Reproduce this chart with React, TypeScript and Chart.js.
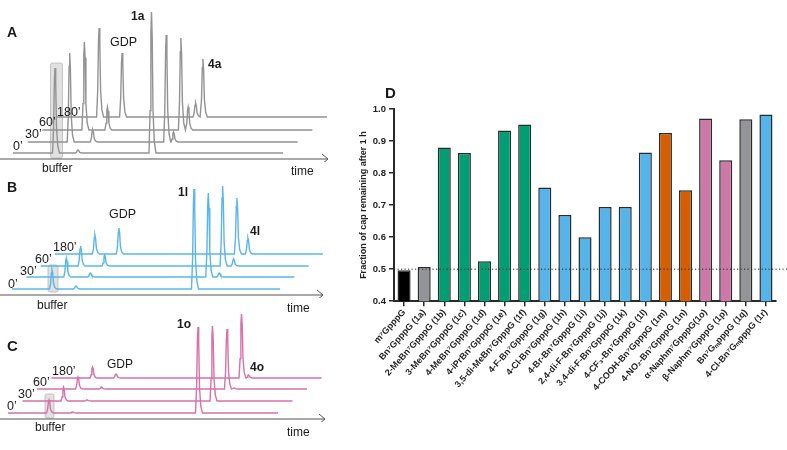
import React, { useEffect, useRef } from "react";
import { Chart, registerables } from "chart.js";
Chart.register(...registerables);

const FONT = '"Liberation Sans", Arial, Helvetica, sans-serif';

// ---------- Panel D data ----------
const capLabels = [
  "m⁷GpppG",
  "Bn⁷GpppG (1a)",
  "2-MeBn⁷GpppG (1b)",
  "3-MeBn⁷GpppG (1c)",
  "4-MeBn⁷GpppG (1d)",
  "4-iPrBn⁷GpppG (1e)",
  "3,5-di-MeBn⁷GpppG (1f)",
  "4-F-Bn⁷GpppG (1g)",
  "4-Cl-Bn⁷GpppG (1h)",
  "4-Br-Bn⁷GpppG (1i)",
  "2,4-di-F-Bn⁷GpppG (1j)",
  "3,4-di-F-Bn⁷GpppG (1k)",
  "4-CF₃-Bn⁷GpppG (1l)",
  "4-COOH-Bn⁷GpppG (1m)",
  "4-NO₂-Bn⁷GpppG (1n)",
  "α-Naphm⁷GpppG(1o)",
  "β-Naphm⁷GpppG (1p)",
  "Bn⁷GₘpppG (1q)",
  "4-Cl-Bn⁷GₘpppG (1r)",
];
const capRemaining = [
  0.497, 0.507, 0.88, 0.863, 0.525, 0.933, 0.952, 0.755, 0.669, 0.6, 0.694,
  0.694, 0.864, 0.925, 0.746, 0.97, 0.84, 0.968, 0.983,
];
const capGroup = [
  "ref", "gray", "green", "green", "green", "green", "green", "blue", "blue",
  "blue", "blue", "blue", "blue", "orange", "orange", "pink", "pink", "gray", "blue",
];
const yTicksD = [0.4, 0.5, 0.6, 0.7, 0.8, 0.9, 1.0];
const referenceLevel = 0.5;

const GROUP_COLORS: Record<string, string> = {
  ref: "#000000",
  gray: "#929497",
  green: "#009E73",
  blue: "#56B4E9",
  orange: "#D55E00",
  pink: "#CC79A7",
};

// ---------- Chromatogram data (peak retention positions, heights per time point) ----------
const timeLabels = ["0’", "30’", "60’", "180’"];

const aRetention = [55, 78, 151.5, 158.8]; // buffer, GDP, 1a, 4a
const aBuffer = [85, 89, 88, 89];
const aGDP = [3, 12, 23, 64];
const a1a = [141, 107, 92, 14];
const a4a = [0, 10, 23, 58];

const bRetention = [52, 76, 194, 205]; // buffer, GDP, 1l, 4l
const bBuffer = [19, 19, 20, 19];
const bGDP = [3, 4, 11, 26];
const b1l = [100, 84, 80, 56];
const b4l = [0, 4, 7, 16];

const cRetention = [49, 72.5, 198, 205]; // buffer, GDP, 1o, 4o
const cBuffer = [13, 14, 12, 11];
const cGDP = [1, 1, 2, 4];
const c1o = [86, 75, 60, 64];
const c4o = [0, 0, 1, 3];

const PEAK_SHAPE: [number, number][] = [
  [-2.5, 0], [-1.4, 0.3], [-0.6, 0.85], [0, 1], [0.7, 0.82], [1.5, 0.3], [2.8, 0.08], [4.5, 0],
];

type PanelCfg = {
  top: number;
  height: number;
  color: string;
  start: number;
  end: number;
  dx: number;
  baselines: number[];
  retention: number[];
  heights: number[][];
  box: [number, number, number, number];
  axisV: number;
  arrowX: number;
};

function buildTrace(cfg: PanelCfg, i: number) {
  const off = cfg.dx * i;
  const base = cfg.baselines[i];
  const pts: { x: number; y: number }[] = [{ x: cfg.start + off, y: base }];
  const peaks = cfg.retention
    .map((t, k) => ({ t, h: cfg.heights[k][i] }))
    .filter((p) => p.h > 0)
    .sort((a, b) => a.t - b.t);
  for (const p of peaks) {
    for (const [ox, f] of PEAK_SHAPE) pts.push({ x: p.t + ox + off, y: base + f * p.h });
  }
  pts.push({ x: cfg.end + off, y: base });
  return pts;
}

function ChromPanel({ cfg }: { cfg: PanelCfg }) {
  const ref = useRef<HTMLCanvasElement>(null);
  useEffect(() => {
    if (!ref.current) return;
    const decor = {
      id: "decor",
      beforeDatasetsDraw(chart: any) {
        const { ctx, scales } = chart;
        const xs = scales.x, ys = scales.y;
        const [x0, x1, y0, y1] = cfg.box;
        ctx.save();
        const L = xs.getPixelForValue(x0), R = xs.getPixelForValue(x1);
        const T = ys.getPixelForValue(y1), B = ys.getPixelForValue(y0);
        ctx.fillStyle = "rgba(205,205,205,0.6)";
        ctx.strokeStyle = "rgba(185,185,185,0.8)";
        ctx.lineWidth = 1;
        ctx.beginPath();
        ctx.roundRect ? ctx.roundRect(L, T, R - L, B - T, 2) : ctx.rect(L, T, R - L, B - T);
        ctx.fill();
        ctx.stroke();
        ctx.restore();
      },
      afterDraw(chart: any) {
        const { ctx, scales } = chart;
        const y = scales.y.getPixelForValue(cfg.axisV);
        const xe = scales.x.getPixelForValue(cfg.arrowX);
        ctx.save();
        ctx.strokeStyle = "#555";
        ctx.lineWidth = 1;
        ctx.beginPath();
        ctx.moveTo(0, y);
        ctx.lineTo(xe, y);
        ctx.moveTo(xe - 6, y - 5);
        ctx.lineTo(xe, y);
        ctx.lineTo(xe - 6, y + 5);
        ctx.stroke();
        ctx.restore();
      },
    };
    const chart = new Chart(ref.current, {
      type: "scatter",
      data: {
        datasets: timeLabels.map((lab, i) => ({
          label: lab,
          data: buildTrace(cfg, i),
          showLine: true,
          borderColor: cfg.color,
          borderWidth: 1.4,
          pointRadius: 0,
          tension: 0,
        })),
      },
      options: {
        animation: false,
        responsive: false,
        layout: { padding: 0 },
        plugins: { legend: { display: false }, tooltip: { enabled: false } },
        scales: {
          x: { type: "linear", display: false, min: 0, max: 330 },
          y: { type: "linear", display: false, min: 0, max: cfg.height },
        },
      },
      plugins: [decor],
    });
    return () => chart.destroy();
  }, [cfg]);
  return (
    <canvas
      ref={ref}
      width={330}
      height={cfg.height}
      style={{ position: "absolute", left: 0, top: cfg.top, width: 330, height: cfg.height }}
    />
  );
}

const panelA: PanelCfg = {
  top: 0, height: 162, color: "#939393", start: 13, end: 283, dx: 14.7,
  baselines: [9, 20, 32, 45], retention: aRetention, heights: [aBuffer, aGDP, a1a, a4a],
  box: [50.5, 62.5, 4, 99], axisV: 3, arrowX: 328,
};
const panelB: PanelCfg = {
  top: 162, height: 136, color: "#5AB6EA", start: 12, end: 280, dx: 14.3,
  baselines: [9, 21, 32, 44], retention: bRetention, heights: [bBuffer, bGDP, b1l, b4l],
  box: [48, 58, 6, 33], axisV: 3, arrowX: 323,
};
const panelC: PanelCfg = {
  top: 300, height: 122, color: "#D672A8", start: 8, end: 278, dx: 14.5,
  baselines: [9, 21, 33, 44], retention: cRetention, heights: [cBuffer, cGDP, c1o, c4o],
  box: [45, 54, 4, 28], axisV: 3, arrowX: 325,
};

function T({ x, y, s, b, children, color }: any) {
  return (
    <div
      style={{
        position: "absolute",
        left: x,
        top: y - 0.13 * s,
        fontSize: s,
        lineHeight: `${s}px`,
        fontWeight: b ? "bold" : "normal",
        fontFamily: FONT,
        color: color || "#1a1a1a",
        whiteSpace: "nowrap",
      }}
    >
      {children}
    </div>
  );
}

function BarPanel() {
  const ref = useRef<HTMLCanvasElement>(null);
  useEffect(() => {
    if (!ref.current) return;
    const dotted = {
      id: "dotted",
      afterDatasetsDraw(chart: any) {
        const { ctx, chartArea, scales } = chart;
        const y = scales.y.getPixelForValue(referenceLevel);
        ctx.save();
        ctx.strokeStyle = "#222";
        ctx.lineWidth = 1;
        ctx.setLineDash([1.2, 2.3]);
        ctx.beginPath();
        ctx.moveTo(chartArea.left, y);
        ctx.lineTo(chart.width, y);
        ctx.stroke();
        ctx.restore();
      },
    };
    const tickFont = { family: FONT, size: 9, weight: "bold" as const };
    const chart = new Chart(ref.current, {
      type: "bar",
      data: {
        labels: capLabels,
        datasets: [
          {
            data: capRemaining,
            backgroundColor: capGroup.map((g) => GROUP_COLORS[g]),
            borderColor: "#2a2a2a",
            borderWidth: 1.5,
            barPercentage: 0.65,
            categoryPercentage: 1,
          },
        ],
      },
      options: {
        animation: false,
        responsive: false,
        layout: { padding: { left: 13, right: 11, top: 24, bottom: 56 } },
        plugins: { legend: { display: false }, tooltip: { enabled: false } },
        scales: {
          x: {
            grid: { display: true, drawOnChartArea: false, offset: false, tickLength: 5, color: "#2a2a2a", lineWidth: 1.5 },
            border: { display: true, color: "#2a2a2a", width: 2 },
            ticks: { font: tickFont, color: "#222", minRotation: 48, maxRotation: 48, autoSkip: false, padding: 1 },
          },
          y: {
            min: yTicksD[0],
            max: yTicksD[yTicksD.length - 1],
            afterBuildTicks: (axis: any) => {
              axis.ticks = yTicksD.map((v) => ({ value: v }));
            },
            ticks: {
              font: { family: FONT, size: 9.5, weight: "bold" },
              color: "#222",
              padding: 3,
              callback: (v: any) => Number(v).toFixed(1),
            },
            grid: { display: true, drawOnChartArea: false, tickLength: 5, color: "#2a2a2a", lineWidth: 1.5 },
            border: { display: true, color: "#2a2a2a", width: 2 },
            title: {
              display: true,
              text: "Fraction of cap remaining after 1 h",
              font: { family: FONT, size: 9, weight: "bold" },
              color: "#222",
              padding: { top: 0, bottom: 1 },
            },
          },
        },
      },
      plugins: [dotted],
    });
    return () => chart.destroy();
  }, []);
  return (
    <canvas
      ref={ref}
      width={442}
      height={365}
      style={{ position: "absolute", left: 345, top: 85, width: 442, height: 365 }}
    />
  );
}

export default function App() {
  return (
    <div
      style={{
        position: "fixed",
        left: 0,
        top: 0,
        width: 787,
        height: 450,
        background: "#fff",
        overflow: "hidden",
        fontFamily: FONT,
      }}
    >
      <ChromPanel cfg={panelA} />
      <ChromPanel cfg={panelB} />
      <ChromPanel cfg={panelC} />
      <BarPanel />

      {/* Panel A texts */}
      <T x={7} y={27} s={14} b>A</T>
      <T x={131} y={12} s={12} b>1a</T>
      <T x={110} y={38} s={12.5}>GDP</T>
      <T x={208} y={60} s={12} b>4a</T>
      <T x={57} y={108} s={12.5}>180’</T>
      <T x={39} y={118} s={12.5}>60’</T>
      <T x={25} y={130} s={12.5}>30’</T>
      <T x={13} y={142} s={12.5}>0’</T>
      <T x={42} y={164} s={12}>buffer</T>
      <T x={291} y={167} s={12}>time</T>

      {/* Panel B texts */}
      <T x={7} y={182} s={14} b>B</T>
      <T x={178} y={188} s={12} b>1l</T>
      <T x={109} y={210} s={12.5}>GDP</T>
      <T x={250} y={227} s={12} b>4l</T>
      <T x={53} y={243} s={12.5}>180’</T>
      <T x={35} y={255} s={12.5}>60’</T>
      <T x={20} y={267} s={12.5}>30’</T>
      <T x={8} y={280} s={12.5}>0’</T>
      <T x={37} y={301} s={12}>buffer</T>
      <T x={287} y={304} s={12}>time</T>

      {/* Panel C texts */}
      <T x={7} y={340} s={15} b>C</T>
      <T x={177} y={320} s={12} b>1o</T>
      <T x={107} y={360} s={12}>GDP</T>
      <T x={250} y={363} s={12} b>4o</T>
      <T x={52} y={367} s={12.5}>180’</T>
      <T x={33} y={378} s={12.5}>60’</T>
      <T x={18} y={390} s={12.5}>30’</T>
      <T x={7} y={402} s={12.5}>0’</T>
      <T x={35} y={423} s={12}>buffer</T>
      <T x={287} y={428} s={12}>time</T>

      {/* Panel D label */}
      <T x={385} y={87} s={15} b>D</T>
    </div>
  );
}
